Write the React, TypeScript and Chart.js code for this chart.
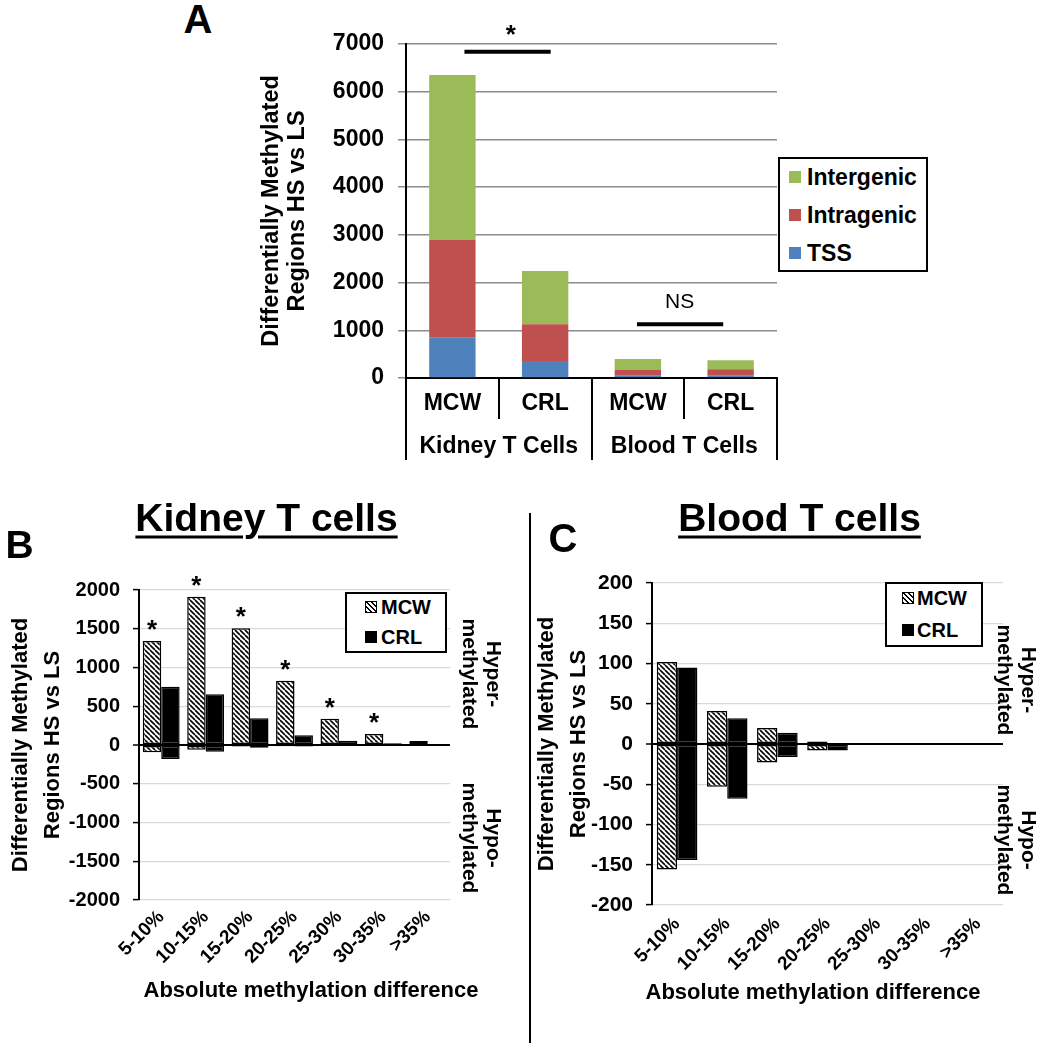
import React, { useEffect, useRef } from 'react';
import { Chart, registerables } from 'chart.js';

Chart.register(...registerables);

const FONT = '"Liberation Sans", Arial, Helvetica, sans-serif';
Chart.defaults.font.family = FONT;
Chart.defaults.color = '#000';

// ---------------- Panel A data ----------------
const sourceLabels = ['MCW', 'CRL', 'MCW', 'CRL'];
const tissueLabels = ['Kidney T Cells', 'Blood T Cells'];
const tssCounts = [855, 358, 58, 56];
const intragenicCounts = [2035, 768, 110, 126];
const intergenicCounts = [3460, 1114, 230, 189];
const regionNames = ['Intergenic', 'Intragenic', 'TSS'];
const countAxis = { min: 0, max: 7000, step: 1000 };

// significance brackets in panel A (category-index units / count units)
const bracketFrom = [0.13, 1.99];
const bracketTo = [1.06, 2.92];
const bracketValue = [6840, 1126];
const bracketText = ['*', 'NS'];
const bracketTextIndex = [0.63, 2.45];
const bracketTextValue = [7337, 1580];

// ---------------- Panel B / C data ----------------
const diffBins = ['5-10%', '10-15%', '15-20%', '20-25%', '25-30%', '30-35%', '>35%'];
const kidneyMcwHyper = [1342, 1914, 1505, 830, 340, 142, 52];
const kidneyMcwHypo = [-94, -61, -20, -15, -5, 0, 0];
const kidneyCrlHyper = [752, 654, 344, 125, 55, 22, 0];
const kidneyCrlHypo = [-181, -86, -35, -20, -5, 0, 0];
const kidneyStars = ['*', '*', '*', '*', '*', '*', ''];
const kidneyAxis = { min: -2000, max: 2000, step: 500 };

const bloodMcwHyper = [102, 41, 20, 3, 0, 0, 0];
const bloodMcwHypo = [-156, -53, -23, -8, -1, 0, 0];
const bloodCrlHyper = [95, 32, 14, 1, 0, 0, 0];
const bloodCrlHypo = [-144, -68, -16, -8, -1, 0, 0];
const bloodAxis = { min: -200, max: 200, step: 50 };

const yTitle = ['Differentially Methylated', 'Regions HS vs LS'];
const xTitle = 'Absolute methylation difference';

const COLORS = { TSS: '#4F81BD', Intragenic: '#C0504D', Intergenic: '#9BBB59' };

const plainTick = (v: any) => String(v);

function makeHatch(): CanvasPattern | string {
  const s = 5;
  const c = document.createElement('canvas');
  c.width = s;
  c.height = s;
  const g = c.getContext('2d');
  if (!g) return '#888';
  g.fillStyle = '#fff';
  g.fillRect(0, 0, s, s);
  g.strokeStyle = '#000';
  g.lineWidth = 1.6;
  for (const k of [-1, 0, 1]) {
    g.beginPath();
    g.moveTo(k * s, 0);
    g.lineTo(k * s + s, s);
    g.stroke();
  }
  return g.createPattern(c, 'repeat') || '#888';
}

const dividerPlugin = {
  id: 'dividers',
  afterDraw(chart: any) {
    const xs = chart.scales.x;
    const x2 = chart.scales.x2;
    const ctx = chart.ctx;
    ctx.save();
    ctx.strokeStyle = '#000';
    ctx.lineWidth = 2;
    const n = xs.getLabels().length;
    for (let i = 0; i <= n; i++) {
      const px = Math.round(xs.getPixelForValue(i - 0.5));
      ctx.beginPath();
      ctx.moveTo(px, xs.top);
      ctx.lineTo(px, xs.bottom);
      ctx.stroke();
    }
    const m = x2.getLabels().length;
    for (let j = 0; j <= m; j++) {
      const px = Math.round(x2.getPixelForValue(j - 0.5));
      ctx.beginPath();
      ctx.moveTo(px, xs.top);
      ctx.lineTo(px, x2.bottom);
      ctx.stroke();
    }
    ctx.restore();
  },
};

const bracketPlugin = {
  id: 'brackets',
  afterDraw(chart: any) {
    const xs = chart.scales.x;
    const ys = chart.scales.y;
    const ctx = chart.ctx;
    ctx.save();
    for (let i = 0; i < bracketText.length; i++) {
      const y = ys.getPixelForValue(bracketValue[i]);
      ctx.strokeStyle = '#000';
      ctx.lineWidth = 4;
      ctx.beginPath();
      ctx.moveTo(xs.getPixelForValue(bracketFrom[i]), y);
      ctx.lineTo(xs.getPixelForValue(bracketTo[i]), y);
      ctx.stroke();
      const tx = xs.getPixelForValue(bracketTextIndex[i]);
      const ty = ys.getPixelForValue(bracketTextValue[i]);
      ctx.fillStyle = '#000';
      ctx.textAlign = 'center';
      if (bracketText[i] === '*') {
        ctx.font = `bold 26px ${FONT}`;
        ctx.textBaseline = 'alphabetic';
        ctx.fillText(bracketText[i], tx, ty + 15);
      } else {
        ctx.font = `21px ${FONT}`;
        ctx.textBaseline = 'middle';
        ctx.fillText(bracketText[i], tx, ty);
      }
    }
    ctx.restore();
  },
};

const makeStarPlugin = (stars: string[]) => ({
  id: 'stars',
  afterDatasetsDraw(chart: any) {
    const meta = chart.getDatasetMeta(0);
    const ctx = chart.ctx;
    ctx.save();
    ctx.fillStyle = '#000';
    ctx.font = `bold 26px ${FONT}`;
    ctx.textAlign = 'center';
    ctx.textBaseline = 'alphabetic';
    meta.data.forEach((el: any, i: number) => {
      if (!stars[i]) return;
      ctx.fillText(stars[i], el.x, el.y - 3);
    });
    ctx.restore();
  },
});

function diffChartConfig(
  hatch: any,
  mcwHyper: number[],
  crlHyper: number[],
  mcwHypo: number[],
  crlHypo: number[],
  axis: { min: number; max: number; step: number },
  opts: { padTop: number; yWidth: number; titlePad: number; catPct: number; tickSize: number; xPad: number },
  extraPlugins: any[]
): any {
  const bw = (c: any) => (c.raw === 0 ? 0 : 1.5);
  const mk = (label: string, data: number[], stack: string, fill: any) => ({
    label,
    data,
    stack,
    backgroundColor: fill,
    borderColor: '#000',
    borderWidth: bw,
    borderSkipped: false,
  });
  return {
    type: 'bar',
    data: {
      labels: diffBins,
      datasets: [
        mk('MCW', mcwHyper, 'MCW', hatch),
        mk('CRL', crlHyper, 'CRL', '#000'),
        mk('MCW', mcwHypo, 'MCW', hatch),
        mk('CRL', crlHypo, 'CRL', '#000'),
      ],
    },
    options: {
      responsive: false,
      animation: false,
      events: [],
      layout: { padding: { top: opts.padTop, right: 12, bottom: 10, left: 0 } },
      plugins: { legend: { display: false }, tooltip: { enabled: false } },
      datasets: { bar: { categoryPercentage: opts.catPct, barPercentage: 1 } },
      scales: {
        x: {
          stacked: true,
          offset: true,
          grid: { display: false, drawTicks: false },
          border: { display: false },
          ticks: {
            autoSkip: false,
            maxRotation: 45,
            minRotation: 45,
            padding: opts.xPad,
            font: { size: 19, weight: 'bold' },
            color: '#000',
          },
          afterFit: (s: any) => {
            s.height = 70;
          },
        },
        y: {
          stacked: true,
          min: axis.min,
          max: axis.max,
          ticks: {
            stepSize: axis.step,
            padding: 13,
            font: { size: opts.tickSize, weight: 'bold' },
            color: '#000',
            callback: plainTick,
          },
          grid: {
            color: (c: any) => (c.tick && c.tick.value === 0 ? '#000' : '#d9d9d9'),
            lineWidth: (c: any) => (c.tick && c.tick.value === 0 ? 2 : 1.2),
            tickColor: '#000',
            tickWidth: 1.5,
            tickLength: 6,
          },
          border: { color: '#000', width: 2 },
          title: {
            display: true,
            text: yTitle,
            font: { size: 22, weight: 'bold', lineHeight: 1.45 },
            color: '#000',
            padding: { top: opts.titlePad, bottom: 0 },
          },
          afterFit: (s: any) => {
            s.width = opts.yWidth;
          },
        },
      },
    },
    plugins: extraPlugins,
  };
}

type LabelProps = {
  x: number;
  y: number;
  size: number;
  bold?: boolean;
  rot?: number;
  lh?: string | number;
  style?: React.CSSProperties;
  children: React.ReactNode;
};

const Label = ({ x, y, size, bold = true, rot = 0, lh = 1, style, children }: LabelProps) => (
  <div
    style={{
      position: 'absolute',
      left: x,
      top: y,
      transform: `translate(-50%, -50%) rotate(${rot}deg)`,
      fontFamily: FONT,
      fontSize: size,
      fontWeight: bold ? 700 : 400,
      lineHeight: lh,
      whiteSpace: 'pre',
      textAlign: 'center',
      color: '#000',
      ...style,
    }}
  >
    {children}
  </div>
);

const Swatch = ({ x, y, size, fill }: { x: number; y: number; size: number; fill: string }) => (
  <div
    style={{
      position: 'absolute',
      left: x,
      top: y - size / 2,
      width: size,
      height: size,
      background: fill,
      boxSizing: 'border-box',
    }}
  />
);

const LegendText = ({ x, y, size, children }: { x: number; y: number; size: number; children: React.ReactNode }) => (
  <div
    style={{
      position: 'absolute',
      left: x,
      top: y,
      transform: 'translateY(-50%)',
      fontFamily: FONT,
      fontSize: size,
      fontWeight: 700,
      lineHeight: 1,
      whiteSpace: 'pre',
      color: '#000',
    }}
  >
    {children}
  </div>
);

const HATCH_CSS = 'repeating-linear-gradient(45deg, #000 0px, #000 1.3px, #fff 1.3px, #fff 3.5px)';

export default function App() {
  const aRef = useRef<HTMLCanvasElement>(null);
  const bRef = useRef<HTMLCanvasElement>(null);
  const cRef = useRef<HTMLCanvasElement>(null);

  useEffect(() => {
    const hatch = makeHatch();
    const charts: Chart[] = [];

    if (aRef.current) {
      charts.push(
        new Chart(aRef.current, {
          type: 'bar',
          data: {
            labels: sourceLabels,
            datasets: [
              { label: 'TSS', data: tssCounts, backgroundColor: COLORS.TSS, xAxisID: 'x' },
              { label: 'Intragenic', data: intragenicCounts, backgroundColor: COLORS.Intragenic, xAxisID: 'x' },
              { label: 'Intergenic', data: intergenicCounts, backgroundColor: COLORS.Intergenic, xAxisID: 'x' },
            ],
          },
          options: {
            responsive: false,
            animation: false,
            events: [],
            layout: { padding: { top: 44, right: 13, bottom: 20, left: 0 } },
            plugins: { legend: { display: false }, tooltip: { enabled: false } },
            datasets: { bar: { categoryPercentage: 0.5, barPercentage: 1, borderWidth: 0 } },
            scales: {
              x: {
                type: 'category',
                stacked: true,
                offset: true,
                weight: 0,
                grid: { display: false, drawTicks: false },
                border: { display: true, color: '#000', width: 2 },
                ticks: { font: { size: 23, weight: 'bold' }, color: '#000', padding: 12 },
                afterFit: (s: any) => {
                  s.height = 41;
                },
              },
              x2: {
                type: 'category',
                position: 'bottom',
                labels: tissueLabels,
                offset: true,
                weight: 1,
                grid: { display: false, drawTicks: false },
                border: { display: false },
                ticks: { font: { size: 23, weight: 'bold' }, color: '#000', padding: 14 },
                afterFit: (s: any) => {
                  s.height = 41;
                },
              },
              y: {
                stacked: true,
                min: countAxis.min,
                max: countAxis.max,
                ticks: {
                  stepSize: countAxis.step,
                  font: { size: 23, weight: 'bold' },
                  color: '#000',
                  padding: 14,
                  callback: plainTick,
                },
                grid: { color: '#8c8c8c', lineWidth: 1.5, tickLength: 8, tickColor: '#8c8c8c' },
                border: { color: '#000', width: 2 },
                title: {
                  display: true,
                  text: yTitle,
                  font: { size: 23.5, weight: 'bold', lineHeight: 1.106 },
                  color: '#000',
                  padding: { top: 8.6, bottom: 0 },
                },
                afterFit: (s: any) => {
                  s.width = 156;
                },
              },
            },
          } as any,
          plugins: [dividerPlugin, bracketPlugin],
        } as any)
      );
    }

    if (bRef.current) {
      charts.push(
        new Chart(
          bRef.current,
          diffChartConfig(
            hatch,
            kidneyMcwHyper,
            kidneyCrlHyper,
            kidneyMcwHypo,
            kidneyCrlHypo,
            kidneyAxis,
            { padTop: 110, yWidth: 139, titlePad: 5, catPct: 0.83, tickSize: 20, xPad: 6 },
            [makeStarPlugin(kidneyStars)]
          )
        )
      );
    }

    if (cRef.current) {
      charts.push(
        new Chart(
          cRef.current,
          diffChartConfig(
            hatch,
            bloodMcwHyper,
            bloodCrlHyper,
            bloodMcwHypo,
            bloodCrlHypo,
            bloodAxis,
            { padTop: 103, yWidth: 122, titlePad: 1, catPct: 0.81, tickSize: 21, xPad: 8 },
            []
          )
        )
      );
    }

    return () => {
      charts.forEach((c) => c.destroy());
    };
  }, []);

  return (
    <div
      style={{
        position: 'absolute',
        left: 0,
        top: 0,
        width: 1050,
        height: 1043,
        background: '#fff',
        overflow: 'hidden',
      }}
    >
      <canvas ref={aRef} width={540} height={480} style={{ position: 'absolute', left: 250, top: 0 }} />
      <canvas ref={bRef} width={462} height={500} style={{ position: 'absolute', left: 0, top: 480 }} />
      <canvas ref={cRef} width={485} height={505} style={{ position: 'absolute', left: 530, top: 480 }} />

      {/* Panel letters */}
      <Label x={198} y={19} size={40}>A</Label>
      <Label x={19.5} y={544} size={39}>B</Label>
      <Label x={563} y={537.5} size={40}>C</Label>

      {/* Panel A legend */}
      <div
        style={{
          position: 'absolute',
          left: 778,
          top: 157,
          width: 150,
          height: 115,
          border: '2px solid #000',
          boxSizing: 'border-box',
          background: '#fff',
        }}
      />
      <Swatch x={789} y={177} size={12} fill={COLORS.Intergenic} />
      <LegendText x={807} y={177} size={23}>{regionNames[0]}</LegendText>
      <Swatch x={789} y={215} size={12} fill={COLORS.Intragenic} />
      <LegendText x={807} y={215} size={23}>{regionNames[1]}</LegendText>
      <Swatch x={789} y={253} size={12} fill={COLORS.TSS} />
      <LegendText x={807} y={253} size={23}>{regionNames[2]}</LegendText>

      {/* Panel titles */}
      <Label
        x={266.5}
        y={516.5}
        size={39}
        style={{ textDecoration: 'underline', textDecorationThickness: '3px', textUnderlineOffset: '5px' }}
      >
        Kidney T cells
      </Label>
      <Label
        x={799.5}
        y={516.5}
        size={39}
        style={{ textDecoration: 'underline', textDecorationThickness: '3px', textUnderlineOffset: '5px' }}
      >
        Blood T cells
      </Label>

      {/* Panel B legend */}
      <div
        style={{
          position: 'absolute',
          left: 345,
          top: 592,
          width: 102,
          height: 61,
          border: '2px solid #000',
          boxSizing: 'border-box',
          background: '#fff',
        }}
      />
      <div
        style={{
          position: 'absolute',
          left: 365,
          top: 601,
          width: 12,
          height: 12,
          background: HATCH_CSS,
          border: '1px solid #000',
          boxSizing: 'border-box',
        }}
      />
      <LegendText x={381} y={607} size={20}>MCW</LegendText>
      <Swatch x={365} y={637} size={12} fill="#000" />
      <LegendText x={381} y={637} size={20}>CRL</LegendText>

      {/* Panel C legend */}
      <div
        style={{
          position: 'absolute',
          left: 885,
          top: 582,
          width: 98,
          height: 65,
          border: '2px solid #000',
          boxSizing: 'border-box',
          background: '#fff',
        }}
      />
      <div
        style={{
          position: 'absolute',
          left: 902,
          top: 592,
          width: 12,
          height: 12,
          background: HATCH_CSS,
          border: '1px solid #000',
          boxSizing: 'border-box',
        }}
      />
      <LegendText x={917} y={598} size={20}>MCW</LegendText>
      <Swatch x={902} y={630} size={12} fill="#000" />
      <LegendText x={917} y={630} size={20}>CRL</LegendText>

      {/* Hyper / Hypo side labels */}
      <Label x={482} y={674} size={21} rot={90} lh="24px">{'Hyper-\nmethylated'}</Label>
      <Label x={482} y={838} size={21} rot={90} lh="24px">{'Hypo-\nmethylated'}</Label>
      <Label x={1017} y={680} size={21} rot={90} lh="24px">{'Hyper-\nmethylated'}</Label>
      <Label x={1017} y={840} size={21} rot={90} lh="24px">{'Hypo-\nmethylated'}</Label>

      {/* X axis titles */}
      <Label x={311} y={990} size={22}>{xTitle}</Label>
      <Label x={813} y={992} size={22}>{xTitle}</Label>

      {/* Divider between B and C */}
      <div style={{ position: 'absolute', left: 529, top: 513, width: 2, height: 530, background: '#000' }} />
    </div>
  );
}
